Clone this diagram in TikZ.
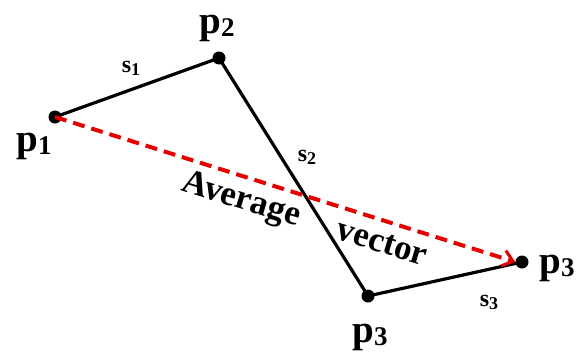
\documentclass[tikz,border=0pt]{standalone}
\usepackage{fontspec}
\setmainfont{Liberation Serif}
\usetikzlibrary{arrows.meta}
\newcommand{\plabel}[1]{p\raisebox{-3pt}{\fontsize{27}{27}\selectfont #1}}
\newcommand{\slabel}[1]{s\raisebox{-3pt}{\fontsize{18}{18}\selectfont #1}}
\begin{document}
\begin{tikzpicture}[x=1pt,y=-1pt,
  dot/.style={circle,fill=black,inner sep=0pt,minimum size=13pt},
  seg/.style={line width=3.2pt,black},
  avg/.style={line width=4pt,red!90!black,dash pattern=on 12pt off 7pt,-{Straight Barb[length=10pt,width=16pt,line width=3pt]}},
  plab/.style={font=\bfseries\fontsize{39}{41}\selectfont,inner sep=0pt},
  slab/.style={font=\bfseries\fontsize{24}{26}\selectfont,inner sep=0pt},
  tlab/.style={font=\bfseries\fontsize{35}{37}\selectfont,inner sep=0pt,rotate=-17}]
\useasboundingbox (0,0) rectangle (581,362);
\node[dot] (p1) at (55,117) {};
\node[dot] (p2) at (219,58) {};
\node[dot] (p3) at (368,296) {};
\node[dot] (p4) at (522,262) {};
\draw[seg] (p1.center) -- (p2.center) -- (p3.center) -- (p4.center);
\draw[avg] (p1.center) -- (p4.west);
\node[plab] (l1) at (34,146) {\plabel{1}};
\node[plab] (l2) at (217,28) {\plabel{2}};
\node[plab] (l3) at (370,337) {\plabel{3}};
\node[plab] (l4) at (557,268) {\plabel{3}};
\node[slab] (s1) at (131,68) {\slabel{1}};
\node[slab] (s2) at (307,157) {\slabel{2}};
\node[slab] (s3) at (489,302) {\slabel{3}};
\node[tlab] (t1) at (241,201) {Average};
\node[tlab] (t2) at (382,243) {vector};
\end{tikzpicture}
\end{document}
